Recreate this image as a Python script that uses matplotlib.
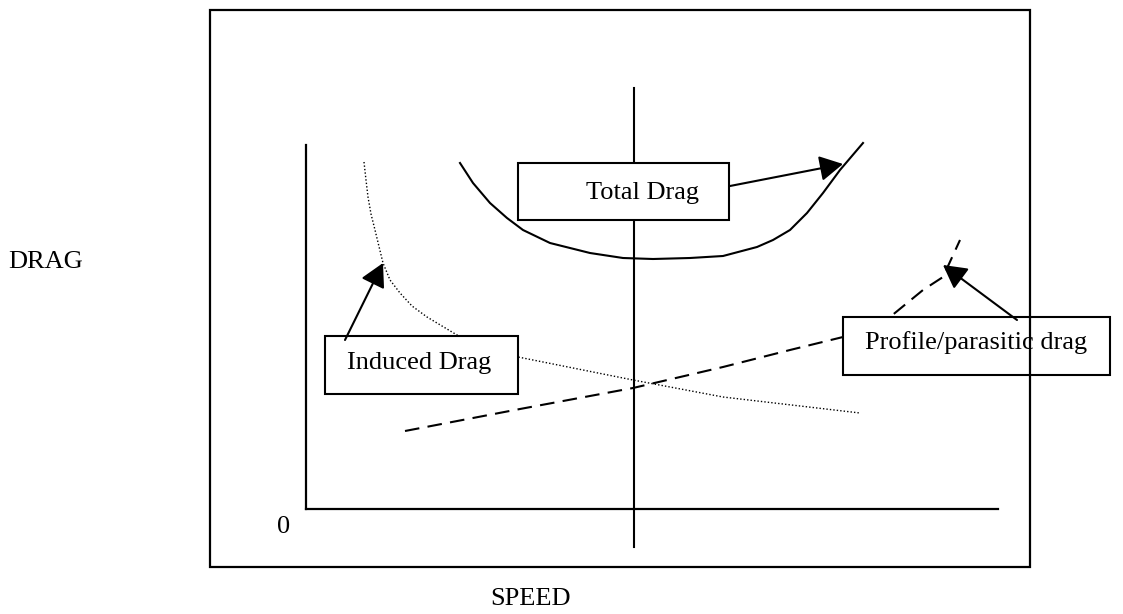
import matplotlib.pyplot as plt
from matplotlib.patches import Rectangle

plt.rcParams['font.family'] = ['Liberation Serif', 'DejaVu Serif']

# curve samples (speed, drag) in chart units, origin at the axes corner
total_speed = [154, 167, 184, 201, 217, 244, 284, 317, 347, 384, 417, 451, 467, 484, 501, 517, 534, 557]
total_drag = [346, 326, 306, 291, 279, 266, 256, 251, 250, 251, 253, 262, 269, 279, 296, 316, 339, 366]

induced_speed = [58, 60, 62, 65, 69, 77, 84, 94, 106, 121, 151, 212, 327, 417, 554]
induced_drag = [347, 329, 312, 295, 279, 246, 229, 216, 203, 192, 174, 152, 129, 112, 96]

profile_speed = [99, 214, 327, 417, 484, 537, 584, 617, 637, 654]
profile_drag = [78, 100, 121, 142, 159, 172, 192, 219, 232, 269]

min_power_speed = 328
labels = ['Total Drag', 'Induced Drag', 'Profile/parasitic drag']

W, H = 1123, 614
fig = plt.figure(figsize=(W / 100, H / 100), dpi=100)
ax = fig.add_axes([306 / W, (H - 509) / H, 692 / W, 364 / H])
ax.set_xlim(0, 692)
ax.set_ylim(0, 364)
ax.set_xticks([])
ax.set_yticks([])
for s in ['top', 'right']:
    ax.spines[s].set_visible(False)
for s in ['left', 'bottom']:
    ax.spines[s].set_linewidth(1.6)
ax.patch.set_alpha(0)

lw = 1.5
ax.plot(total_speed, total_drag, color='black', lw=lw, clip_on=False, zorder=2)
ax.plot(induced_speed, induced_drag, color='black', lw=1.0, ls=(0, (1, 1.5)), clip_on=False, zorder=2)
ax.plot(profile_speed, profile_drag, color='black', lw=lw, ls=(0, (7, 4)), clip_on=False, zorder=2)
ax.plot([min_power_speed, min_power_speed], [-38, 421], color='black', lw=lw, clip_on=False, zorder=2)

# label boxes
boxes = [(212, 289, 211, 57), (19, 115, 193, 58), (537, 134, 267, 58)]
text_pos = [(337, 316), (113, 146), (670, 166)]
for (x, y, w, h), (tx, ty), lab in zip(boxes, text_pos, labels):
    ax.add_patch(Rectangle((x, y), w, h, facecolor='white', edgecolor='black',
                           lw=lw, clip_on=False, zorder=3))
    ax.text(tx, ty, lab, fontsize=19, ha='center', va='center', zorder=4)

arrows = [((424, 323), (537, 345)), ((39, 169), (77, 246)), ((711, 189), (637, 244))]
for tail, head in arrows:
    ax.annotate('', xy=head, xytext=tail, zorder=5,
                arrowprops=dict(arrowstyle='-|>,head_length=0.55,head_width=0.3',
                                mutation_scale=26, color='black', lw=lw,
                                shrinkA=0, shrinkB=0))

# outer frame and axis labels
fig.add_artist(Rectangle((210 / W, (H - 567) / H), 820 / W, 557 / H,
                         transform=fig.transFigure, fill=False, lw=1.6, color='black'))
fig.text(46 / W, 1 - 262 / H, 'DRAG', fontsize=19, ha='center', va='center')
fig.text(530 / W, 1 - 599 / H, 'SPEED', fontsize=19, ha='center', va='center')
fig.text(284 / W, 1 - 527 / H, '0', fontsize=19, ha='center', va='center')

fig.savefig('out.png', dpi=100)
